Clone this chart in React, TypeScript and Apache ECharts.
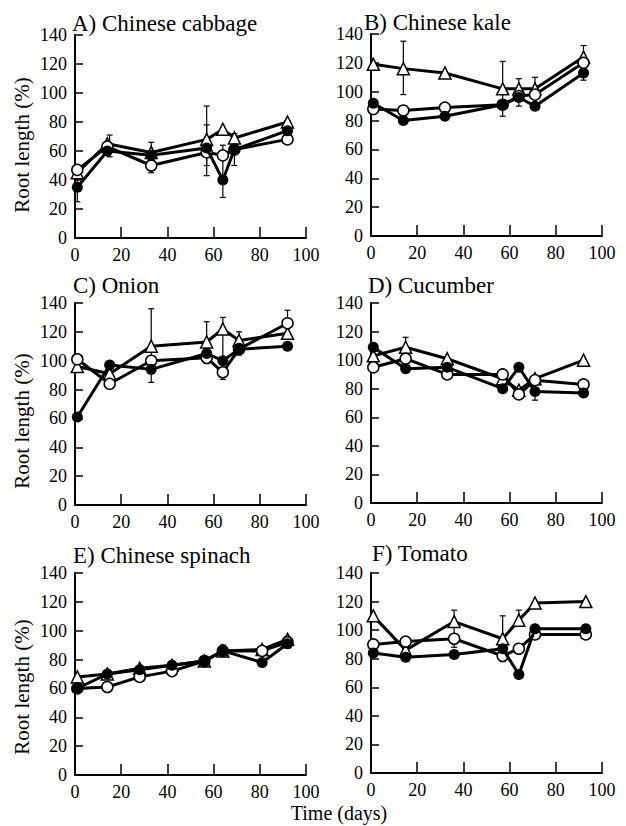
import React, { useEffect, useRef } from "react";
import * as echarts from "echarts";

// ---------- data ----------
const panelTitles = ["A) Chinese cabbage", "B) Chinese kale", "C) Onion", "D) Cucumber", "E) Chinese spinach", "F) Tomato"];
const xTicks = [0, 20, 40, 60, 80, 100];
const yTicks = [0, 20, 40, 60, 80, 100, 120, 140];

const daysA = [1, 14, 33, 57, 64, 69, 92];
const filledA = [35, 60, 57, 62, 40, 61, 74];
const openA = [47, 63, 50, 59, 57, 61, 68];
const triA = [45, 65, 59, 68, 75, 69, 80];
const errA = [[1, 25, 48], [15, 56, 71], [33, 45, 66], [57, 43, 91], [57, 50, 78], [64, 28, 64], [69, 50, 72], [92, 70, 81]];

const daysB = [1, 14, 32, 57, 64, 71, 92];
const filledB = [92, 80, 83, 91, 96, 90, 113];
const openB = [88, 87, 89, 91, 97, 98, 120];
const triB = [119, 116, 113, 102, 102, 102, 124];
const errB = [[14, 98, 135], [57, 83, 121], [64, 90, 109], [71, 95, 110], [92, 108, 132]];

const daysC = [1, 15, 33, 57, 64, 71, 92];
const filledC = [61, 97, 94, 105, 100, 108, 110];
const openC = [101, 84, 100, 102, 92, 108, 126];
const triC = [96, 91, 110, 113, 122, 114, 119];
const errC = [[33, 85, 136], [57, 98, 127], [64, 87, 130], [71, 104, 120], [92, 118, 135]];

const daysD = [1, 15, 33, 57, 64, 71, 92];
const filledD = [109, 94, 95, 80, 95, 78, 77];
const openD = [95, 101, 90, 90, 76, 86, 83];
const triD = [103, 109, 101, 87, 79, 87, 100];
const errD = [[15, 105, 116], [71, 72, 86]];

const daysE = [1, 14, 28, 42, 56, 64, 81, 92];
const filledE = [60, 70, 73, 76, 79, 86, 78, 91];
const openE = [60, 61, 68, 72, 79, 86, 86, 92];
const triE = [68, 70, 74, 76, 79, 86, 87, 94];
const errE = [[64, 84, 90], [92, 88, 96]];

const daysF = [1, 15, 36, 57, 64, 71, 93];
const filledF = [84, 81, 83, 87, 69, 101, 101];
const openF = [90, 92, 94, 82, 87, 97, 97];
const triF = [110, 86, 106, 94, 107, 119, 120];
const errF = [[36, 88, 114], [57, 78, 110], [64, 103, 114]];

const panels = [
  { days: daysA, filled: filledA, open: openA, tri: triA, err: errA },
  { days: daysB, filled: filledB, open: openB, tri: triB, err: errB },
  { days: daysC, filled: filledC, open: openC, tri: triC, err: errC },
  { days: daysD, filled: filledD, open: openD, tri: triD, err: errD },
  { days: daysE, filled: filledE, open: openE, tri: triE, err: errE },
  { days: daysF, filled: filledF, open: openF, tri: triF, err: errF },
];

// ---------- layout ----------
const grids = [
  { left: 75, top: 35, width: 231, height: 203 },
  { left: 371, top: 34, width: 231, height: 202 },
  { left: 75, top: 303, width: 231, height: 202 },
  { left: 371, top: 303, width: 231, height: 200 },
  { left: 75, top: 573, width: 231, height: 202 },
  { left: 371, top: 573, width: 231, height: 200 },
];
const titlePos = [
  [72, 23], [364, 22], [73, 285], [368, 285], [73, 555], [372, 553],
];
const yNamePos = [145, 421, 687];

const FONT = "Liberation Serif";

export default function App() {
  const ref = useRef<HTMLDivElement>(null);
  useEffect(() => {
    if (!ref.current) return;
    const chart = echarts.init(ref.current, null, { renderer: "svg" });

    const xAxis: any[] = [];
    const yAxis: any[] = [];
    const series: any[] = [];
    grids.forEach((g, i) => {
      xAxis.push({
        gridIndex: i, type: "value", min: xTicks[0], max: xTicks[xTicks.length - 1], interval: 20,
        axisLine: { lineStyle: { color: "#000", width: 2 } },
        axisTick: { inside: true, length: 11, lineStyle: { color: "#000", width: 1.5 } },
        axisLabel: { color: "#000", fontFamily: FONT, fontSize: 18, margin: 8, showMinLabel: true, showMaxLabel: true },
        splitLine: { show: false },
      });
      yAxis.push({
        gridIndex: i, type: "value", min: yTicks[0], max: yTicks[yTicks.length - 1], interval: 20,
        axisLine: { show: true, lineStyle: { color: "#000", width: 2 } },
        axisTick: { show: true, inside: true, length: 8, lineStyle: { color: "#000", width: 1.5 } },
        axisLabel: { color: "#000", fontFamily: FONT, fontSize: 18, margin: 8, showMinLabel: true, showMaxLabel: true },
        splitLine: { show: false },
      });
      const p = panels[i];
      series.push({
        type: "custom", xAxisIndex: i, yAxisIndex: i, z: 1, data: p.err,
        renderItem: (params: any, api: any) => {
          const x = api.value(0);
          const lo = api.coord([x, api.value(1)]);
          const hi = api.coord([x, api.value(2)]);
          const st = { stroke: "#000", lineWidth: 1.2 };
          return {
            type: "group",
            children: [
              { type: "line", shape: { x1: lo[0], y1: lo[1], x2: hi[0], y2: hi[1] }, style: st },
              { type: "line", shape: { x1: lo[0] - 3, y1: lo[1], x2: lo[0] + 3, y2: lo[1] }, style: st },
              { type: "line", shape: { x1: hi[0] - 3, y1: hi[1], x2: hi[0] + 3, y2: hi[1] }, style: st },
            ],
          };
        },
      });
      const mk = (vals: number[], symbol: string, fill: string, z: number) => ({
        type: "line", xAxisIndex: i, yAxisIndex: i, z,
        data: p.days.map((d, k) => [d, vals[k]]),
        symbol, symbolSize: symbol === "triangle" ? 12 : 11,
        showAllSymbol: true,
        lineStyle: { color: "#000", width: 3 },
        itemStyle: { color: fill, borderColor: "#000", borderWidth: fill === "#000" ? 0 : 1.5 },
        emphasis: { disabled: true },
      });
      series.push(mk(p.tri, "triangle", "#fff", 2));
      series.push(mk(p.open, "circle", "#fff", 3));
      series.push(mk(p.filled, "circle", "#000", 4));
    });

    const graphic: any[] = [];
    panelTitles.forEach((t, i) => {
      graphic.push({
        type: "text", x: titlePos[i][0], y: titlePos[i][1],
        style: { text: t, fill: "#000", fontFamily: FONT, fontSize: 23, align: "left", verticalAlign: "middle" },
      });
    });
    yNamePos.forEach((y) => {
      graphic.push({
        type: "text", x: 22, y, rotation: Math.PI / 2,
        style: { text: "Root length (%)", fill: "#000", fontFamily: FONT, fontSize: 21, align: "center", verticalAlign: "middle" },
      });
    });
    graphic.push({
      type: "text", x: 339, y: 813,
      style: { text: "Time (days)", fill: "#000", fontFamily: FONT, fontSize: 20, align: "center", verticalAlign: "middle" },
    });

    chart.setOption({
      animation: false,
      backgroundColor: "#fff",
      grid: grids.map((g) => ({ ...g, containLabel: false })),
      xAxis,
      yAxis,
      series,
      graphic,
    });
    return () => chart.dispose();
  }, []);
  return <div ref={ref} style={{ position: "absolute", left: 0, top: 0, width: 626, height: 826 }} />;
}
